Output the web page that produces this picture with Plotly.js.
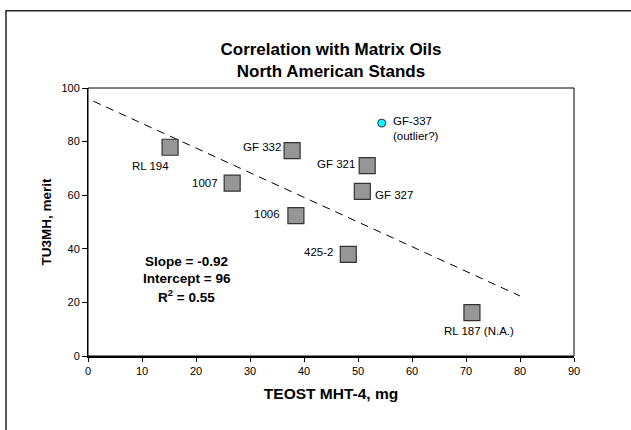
<!DOCTYPE html>
<html>
<head>
<meta charset="utf-8">
<script src="https://cdn.plot.ly/plotly-3.0.1.min.js"></script>
<style>html,body{margin:0;padding:0;background:#fff;}#chart{width:631px;height:430px;}</style>
</head>
<body>
<div id="chart"></div>
<script>
// ---- data ----
const oilNames = ['RL 194', '1007', 'GF 332', '1006', 'GF 321', 'GF 327', '425-2', 'RL 187 (N.A.)'];
const teostMg = [15.2, 26.7, 37.8, 38.5, 51.7, 50.8, 48.2, 71.1];
const tu3mhMerit = [77.9, 64.5, 76.6, 52.4, 71.0, 61.4, 37.9, 16.2];
const outlierNames = ['GF-337<br>(outlier?)'];
const outlierTeost = [54.4];
const outlierTu3mh = [86.9];
const fitSlope = -0.92;
const fitIntercept = 96;
const fitRange = [1, 80];
const statsLines = ['Slope = -0.92', 'Intercept = 96', 'R<sup>2</sup> = 0.55'];
const xTicks = [0, 10, 20, 30, 40, 50, 60, 70, 80, 90];
const yTicks = [0, 20, 40, 60, 80, 100];

// ---- label placement (style, px offsets from marker) ----
const labelAnchor = ['center', 'right', 'right', 'right', 'right', 'left', 'right', 'center'];
const labelDx = [-19.5, -12, -9.5, -14, -10, 11, -13, 7];
const labelDy = [19, -0.5, -3.5, -1.5, -2, 3.7, -2.5, 18.5];
const outlierAnchor = ['left'];
const outlierDx = [9];
const outlierDy = [5.5];
const statsPos = {x: 18.3, y: [35.3, 29.0, 22.3]};

const FONT = 'Liberation Sans, Arial, sans-serif';

const fitY = fitRange.map(v => fitIntercept + fitSlope * v);

const traces = [
  {
    x: fitRange, y: fitY, mode: 'lines', type: 'scatter',
    line: {color: '#000', width: 1, dash: '8px,6px'},
    hoverinfo: 'skip', showlegend: false
  },
  {
    x: teostMg, y: tu3mhMerit, mode: 'markers', type: 'scatter',
    marker: {symbol: 'square', size: 16, color: '#969696', line: {color: '#333', width: 1.2}},
    showlegend: false, cliponaxis: false
  },
  {
    x: outlierTeost, y: outlierTu3mh, mode: 'markers', type: 'scatter',
    marker: {symbol: 'circle', size: 8, color: '#00FFFF', line: {color: '#335', width: 1}},
    showlegend: false, cliponaxis: false
  }
];

function makeLabels(names, xs, ys, anchors, dxs, dys) {
  return names.map((t, i) => ({
    x: xs[i], y: ys[i], xref: 'x', yref: 'y', text: t, showarrow: false,
    xanchor: anchors[i], yanchor: 'middle', align: 'left',
    xshift: dxs[i], yshift: -dys[i],
    font: {family: FONT, size: 11.5, color: '#000'}
  }));
}

const annotations = []
  .concat(makeLabels(oilNames, teostMg, tu3mhMerit, labelAnchor, labelDx, labelDy))
  .concat(makeLabels(outlierNames, outlierTeost, outlierTu3mh, outlierAnchor, outlierDx, outlierDy))
  .concat(statsLines.map((t, i) => ({
    x: statsPos.x, y: statsPos.y[i], xref: 'x', yref: 'y', text: '<b>' + t + '</b>',
    showarrow: false, xanchor: 'center', yanchor: 'middle',
    font: {family: FONT, size: 13.5, color: '#000'}
  })));

const layout = {
  width: 631, height: 430,
  margin: {l: 88, r: 57, t: 87.5, b: 74, pad: 0},
  paper_bgcolor: '#fff', plot_bgcolor: '#fff',
  font: {family: FONT, color: '#000', size: 11},
  title: {
    text: '<b>Correlation with Matrix Oils<br>North American Stands</b>',
    font: {family: FONT, size: 17, color: '#000'},
    x: 0.5, xref: 'paper', xanchor: 'center',
    y: 1 - 55 / 430, yref: 'container', yanchor: 'middle'
  },
  xaxis: {
    range: [0, 90], tickvals: xTicks, ticktext: xTicks.map(String),
    showgrid: false, zeroline: false,
    showline: true, linecolor: '#000', linewidth: 2,
    ticks: 'outside', ticklen: 4, tickwidth: 1, tickcolor: '#000',
    tickfont: {family: FONT, size: 11, color: '#000'},
    title: {text: '<b>TEOST MHT-4, mg</b>', font: {family: FONT, size: 15.5, color: '#000'}, standoff: 12}
  },
  yaxis: {
    range: [0, 100], tickvals: yTicks, ticktext: yTicks.map(String),
    showgrid: false, zeroline: false,
    showline: true, linecolor: '#000', linewidth: 1,
    ticks: 'outside', ticklen: 5, tickwidth: 1, tickcolor: '#000',
    tickfont: {family: FONT, size: 11, color: '#000'},
    title: {text: '<b>TU3MH, merit</b>', font: {family: FONT, size: 13.5, color: '#000'}, standoff: 6}
  },
  shapes: [
    {type: 'rect', xref: 'paper', yref: 'paper', x0: 0, x1: 1, y0: 0, y1: 1,
     line: {color: '#000', width: 1}, fillcolor: 'rgba(0,0,0,0)'},
    {type: 'rect', xref: 'paper', yref: 'paper', x0: -0.1687, x1: 1.3, y0: -0.5, y1: 1.2886,
     line: {color: '#222', width: 1.5}, fillcolor: 'rgba(0,0,0,0)', layer: 'below'}
  ],
  annotations: annotations
};

Plotly.newPlot('chart', traces, layout, {displayModeBar: false, staticPlot: true});
</script>
</body>
</html>
